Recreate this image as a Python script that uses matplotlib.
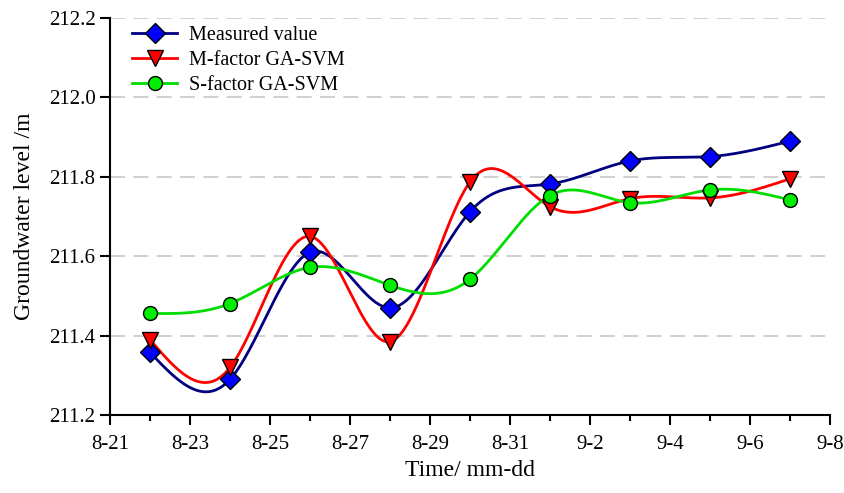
import numpy as np
import pandas as pd
import matplotlib
matplotlib.use("Agg")
import matplotlib.pyplot as plt
import matplotlib.dates as mdates

# Observation dates and groundwater levels (m)
dates = pd.date_range("2016-08-22", "2016-09-07", freq="2D")
measured = [211.358, 211.290, 211.610, 211.470, 211.712, 211.782, 211.840, 211.851, 211.890]
m_factor = [211.390, 211.320, 211.650, 211.385, 211.787, 211.725, 211.745, 211.747, 211.795]
s_factor = [211.456, 211.481, 211.572, 211.527, 211.542, 211.753, 211.735, 211.767, 211.742]


def natural_spline(x, y, n=400):
    # natural cubic spline through the points, for a smooth line
    x = np.asarray(x, float)
    y = np.asarray(y, float)
    k = len(x)
    h = np.diff(x)
    A = np.zeros((k, k))
    b = np.zeros(k)
    A[0, 0] = A[-1, -1] = 1
    for i in range(1, k - 1):
        A[i, i - 1] = h[i - 1]
        A[i, i] = 2 * (h[i - 1] + h[i])
        A[i, i + 1] = h[i]
        b[i] = 3 * ((y[i + 1] - y[i]) / h[i] - (y[i] - y[i - 1]) / h[i - 1])
    c = np.linalg.solve(A, b)
    xs = np.linspace(x[0], x[-1], n)
    idx = np.clip(np.searchsorted(x, xs) - 1, 0, k - 2)
    dx = xs - x[idx]
    bb = (y[idx + 1] - y[idx]) / h[idx] - h[idx] * (2 * c[idx] + c[idx + 1]) / 3
    dd = (c[idx + 1] - c[idx]) / (3 * h[idx])
    ys = y[idx] + bb * dx + c[idx] * dx ** 2 + dd * dx ** 3
    return xs, ys


plt.rcParams["font.family"] = ["Liberation Serif", "DejaVu Serif"]

fig = plt.figure(figsize=(8.45, 4.93), dpi=100)
ax = fig.add_axes([0.1302, 0.158, 0.852, 0.8055])

xn = mdates.date2num(dates)
series = [
    (measured, "Measured value", "#000080", "D", "#0000FF", 10),
    (m_factor, "M-factor GA-SVM", "#FF0000", "v", "#FF0000", 11),
    (s_factor, "S-factor GA-SVM", "#00DD00", "o", "#00EE00", 10),
]
for vals, label, lc, mk, fc, ms in series:
    xs, ys = natural_spline(xn, vals)
    ax.plot(xs, ys, color=lc, lw=2, zorder=3)
    ax.plot(xn, vals, linestyle="none", marker=mk, markersize=ms,
            markerfacecolor=fc, markeredgecolor="black", markeredgewidth=1, zorder=4)
    # legend proxy
    ax.plot([], [], color=lc, lw=2, marker=mk, markersize=ms,
            markerfacecolor=fc, markeredgecolor="black", markeredgewidth=1, label=label)

ticks = pd.date_range("2016-08-21", "2016-09-08", freq="2D")
minor = pd.date_range("2016-08-22", "2016-09-07", freq="2D")
ax.set_xticks(mdates.date2num(ticks))
ax.set_xticklabels([f"{d.month}-{d.day}" for d in ticks])
ax.set_xticks(mdates.date2num(minor), minor=True)
ax.set_xlim(mdates.date2num(ticks[0]), mdates.date2num(ticks[-1]))

ax.set_ylim(211.2, 212.2)
ax.set_yticks([211.2, 211.4, 211.6, 211.8, 212.0, 212.2])
ax.yaxis.set_major_formatter(plt.FuncFormatter(lambda v, p: f"{v:.1f}"))

ax.grid(axis="y", color="#C8C8C8", linestyle=(0, (9, 5)), lw=1.2, zorder=0)
for s in ["top", "right"]:
    ax.spines[s].set_visible(False)
for s in ["left", "bottom"]:
    ax.spines[s].set_linewidth(1.5)

ax.tick_params(axis="both", which="major", direction="out", length=7, width=1.5,
               labelsize=15, colors="black")
ax.tick_params(axis="x", which="major", pad=7)
ax.tick_params(axis="x", which="minor", direction="out", length=4, width=1.5)

ax.set_xlabel("Time/ mm-dd", fontsize=17, labelpad=5)
ax.set_ylabel("Groundwater level /m", fontsize=17, labelpad=10)

ax.legend(loc="upper left", frameon=False, fontsize=14.5, handlelength=2.2,
          handletextpad=0.6, borderaxespad=0.0, bbox_to_anchor=(0.02, 1.0),
          labelspacing=0.3)

fig.savefig("out.png", dpi=100)
